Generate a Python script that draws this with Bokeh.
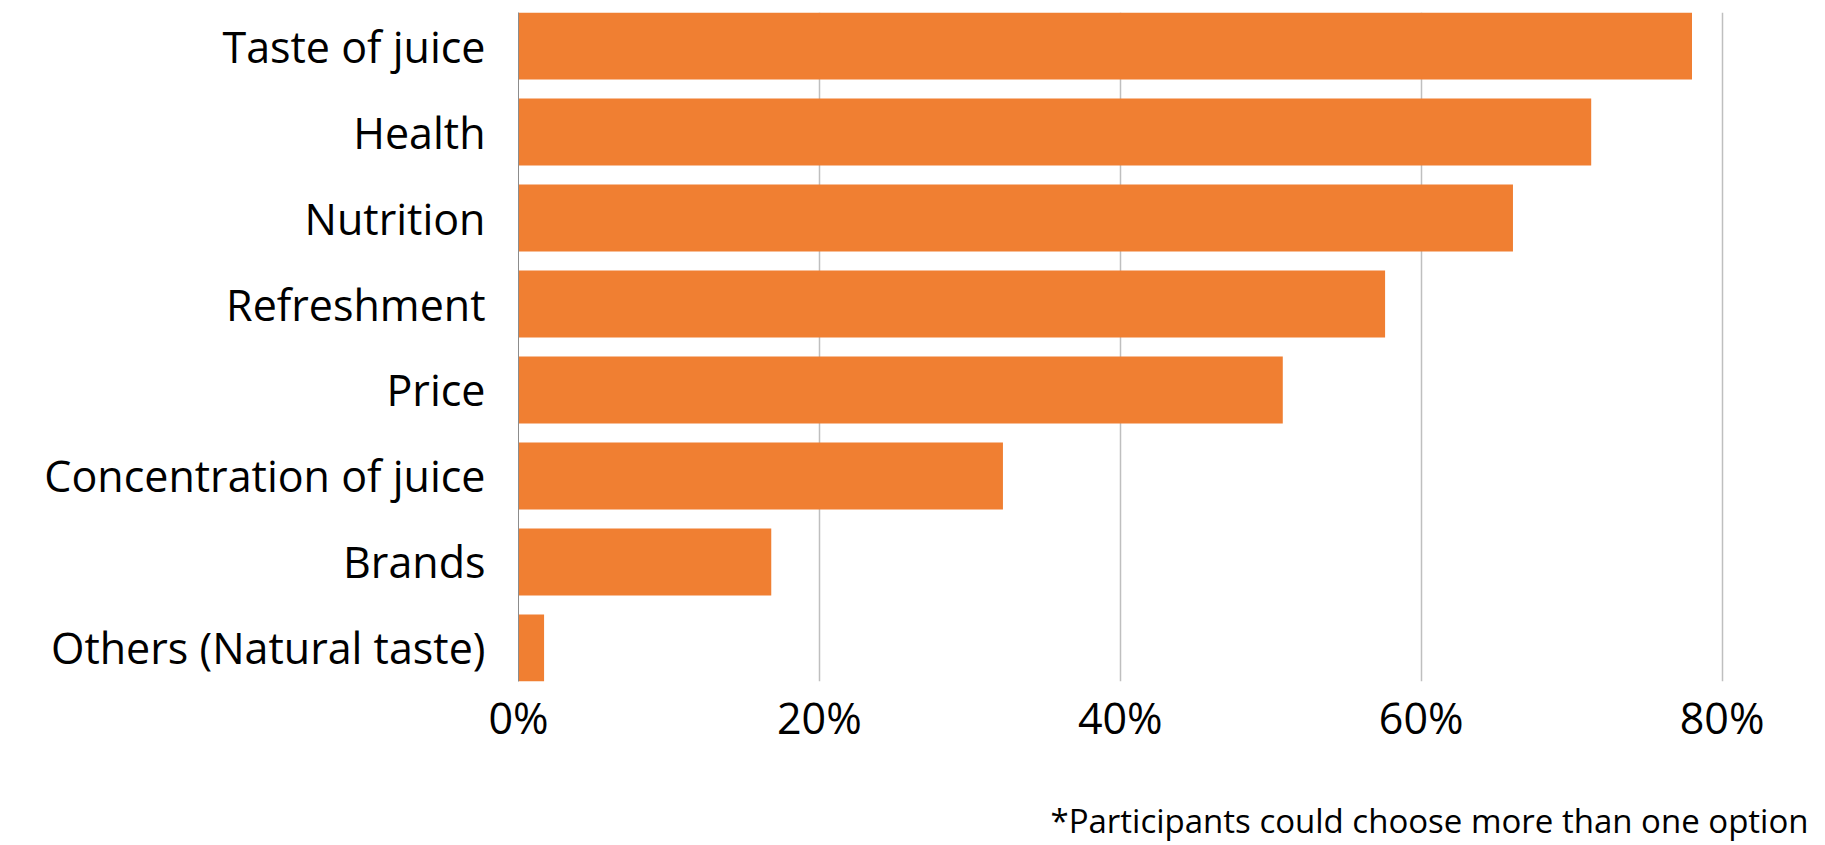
from bokeh.plotting import figure
from bokeh.models import (Range1d, FixedTicker, NumeralTickFormatter, LinearAxis,
                          ColumnDataSource)
from bokeh.embed import file_html
from bokeh.resources import INLINE

categories = ["Taste of juice", "Health", "Nutrition", "Refreshment", "Price",
              "Concentration of juice", "Brands", "Others (Natural taste)"]
values = [0.780, 0.713, 0.661, 0.576, 0.508, 0.322, 0.168, 0.017]
x_ticks = [0.0, 0.2, 0.4, 0.6, 0.8]
footnote_text = "*Participants could choose more than one option"

FONT = "Open Sans"
ORANGE = "#F07F32"
BAR_H = 0.78
n = len(categories)
ypos = list(range(n))

FRAME_W = 1206
FOOT_CENTER = 911  # px from frame left, centre of the footnote text

src = ColumnDataSource(dict(y=ypos, right=values, cat=categories))

p = figure(width=1825, height=845, output_backend="svg", toolbar_location=None,
           title=None,
           x_range=Range1d(0, 0.8016),
           y_range=Range1d(start=n - 1 + BAR_H / 2, end=-BAR_H / 2),
           min_border_left=518, min_border_right=1825 - 518 - FRAME_W,
           min_border_top=12, min_border_bottom=163)
p.outline_line_color = None
p.background_fill_color = "white"
p.border_fill_color = "white"

p.hbar(y="y", right="right", left=0, height=BAR_H, source=src,
       fill_color=ORANGE, line_color=None)

# x axis
p.xaxis.ticker = FixedTicker(ticks=x_ticks)
p.xaxis.formatter = NumeralTickFormatter(format="0%")
p.xaxis.axis_line_color = None
p.xaxis.major_tick_line_color = None
p.xaxis.minor_tick_line_color = None
p.xaxis.major_label_text_font = FONT
p.xaxis.major_label_text_font_size = "43px"
p.xaxis.major_label_text_color = "#000000"
p.xaxis.major_label_standoff = 0

# y axis
p.yaxis.ticker = FixedTicker(ticks=ypos)
p.yaxis.major_label_overrides = {i: c for i, c in zip(ypos, categories)}
p.yaxis.axis_line_color = "#8C8C8C"
p.yaxis.axis_line_width = 1
p.yaxis.major_tick_line_color = None
p.yaxis.minor_tick_line_color = None
p.yaxis.major_label_text_font = FONT
p.yaxis.major_label_text_font_size = "43px"
p.yaxis.major_label_text_color = "#000000"
p.yaxis.major_label_standoff = 27

p.xgrid.grid_line_color = "#BFBFBF"
p.xgrid.grid_line_width = 1.5
p.ygrid.grid_line_color = None

# footnote, drawn as the single label of an extra axis below the chart
p.extra_x_ranges = {"foot": Range1d(0, FRAME_W)}
foot_axis = LinearAxis(x_range_name="foot",
                       ticker=FixedTicker(ticks=[FOOT_CENTER]),
                       major_label_overrides={FOOT_CENTER: footnote_text},
                       axis_line_color=None, major_tick_line_color=None,
                       minor_tick_line_color=None,
                       major_label_standoff=42,
                       major_label_text_font=FONT,
                       major_label_text_font_size="33px",
                       major_label_text_color="#000000")
p.add_layout(foot_axis, "below")

open("out.html", "w").write(file_html(p, INLINE))
